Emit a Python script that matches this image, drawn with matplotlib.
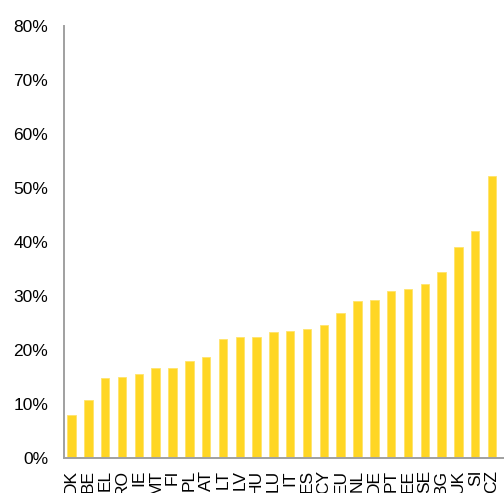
import matplotlib
matplotlib.use("Agg")
import matplotlib.pyplot as plt
from matplotlib.ticker import PercentFormatter

countries = ["DK", "BE", "EL", "RO", "IE", "MT", "FI", "PL", "AT", "LT", "LV", "HU", "LU",
             "IT", "ES", "CY", "EU", "NL", "DE", "PT", "EE", "SE", "BG", "UK", "SI", "CZ"]
shares = [7.9, 10.7, 14.7, 14.9, 15.5, 16.5, 16.6, 17.9, 18.6, 21.9, 22.3, 22.4, 23.2,
          23.4, 23.8, 24.5, 26.8, 28.9, 29.2, 30.8, 31.2, 32.1, 34.4, 38.9, 41.9, 52.1]
y_ticks = [0, 10, 20, 30, 40, 50, 60, 70, 80]

plt.rcParams["font.family"] = ["Liberation Sans", "DejaVu Sans"]

W, H = 504, 493
fig = plt.figure(figsize=(W / 100, H / 100), dpi=100)
left, right, bottom, top = 63.5, 504, 457.5, 25.5
ax = fig.add_axes([left / W, 1 - bottom / H, (right - left) / W, (bottom - top) / H])

x = range(len(countries))
ax.bar(x, shares, width=0.5, color="#FFD624", edgecolor="#FFE36B", linewidth=0.6)

ax.set_ylim(0, 80)
ax.set_xlim(-0.48, 25.71)
ax.set_yticks(y_ticks)
ax.yaxis.set_major_formatter(PercentFormatter(decimals=0))
ax.set_xticks(list(x))
ax.set_xticklabels(countries, rotation=90, fontsize=12.5)
ax.tick_params(axis="y", length=0, pad=11, labelsize=12.5)
ax.tick_params(axis="x", length=0, pad=9)

for s in ("top", "right"):
    ax.spines[s].set_visible(False)
for s in ("left", "bottom"):
    ax.spines[s].set_color("#A0A0A0")
    ax.spines[s].set_linewidth(1.4)

fig.savefig("out.png", dpi=100)
